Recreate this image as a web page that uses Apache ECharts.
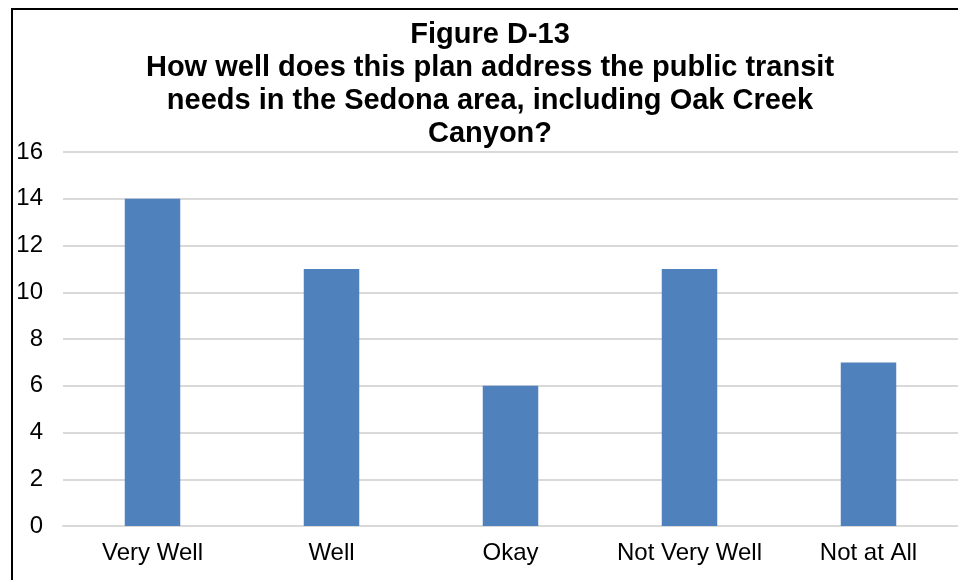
<!DOCTYPE html>
<html><head><meta charset="utf-8">
<script src="https://cdn.jsdelivr.net/npm/echarts@6/dist/echarts.min.js"></script>
<style>html,body{margin:0;padding:0;background:#fff}#c{width:958px;height:580px}</style>
</head><body><div id="c"></div>
<script>
const categories = ["Very Well", "Well", "Okay", "Not Very Well", "Not at All"];
const values = [14, 11, 6, 11, 7];
const titleText = "Figure D-13\nHow well does this plan address the public transit\nneeds in the Sedona area, including Oak Creek\nCanyon?";

const chart = echarts.init(document.getElementById('c'), null, {renderer: 'canvas'});
chart.setOption({
  animation: false,
  backgroundColor: '#fff',
  title: {
    text: titleText,
    left: 485, textAlign: 'center', top: 13,
    textStyle: {fontFamily: 'Arial, "Liberation Sans"', fontWeight: 'bold', fontSize: 29, lineHeight: 33, color: '#000'}
  },
  grid: {left: 63, right: -3, top: 152, bottom: 54, containLabel: false},
  xAxis: {
    type: 'category', data: categories,
    axisLine: {show: true, lineStyle: {color: '#d9d9d9', width: 2}},
    axisTick: {show: false},
    axisLabel: {color: '#000', fontSize: 24, fontFamily: 'Arial, "Liberation Sans"', margin: 15, interval: 0, hideOverlap: false}
  },
  yAxis: {
    type: 'value', min: 0, max: 16, interval: 2,
    axisLine: {show: false}, axisTick: {show: false},
    splitLine: {lineStyle: {color: '#d9d9d9', width: 2}},
    axisLabel: {color: '#000', fontSize: 24, fontFamily: 'Arial, "Liberation Sans"', margin: 20}
  },
  series: [{
    type: 'bar', data: values, barWidth: '31%',
    itemStyle: {color: '#4F81BD'}
  }],
  graphic: [
    {type: 'line', shape: {x1: 12, y1: 9, x2: 958, y2: 9}, style: {stroke: '#000', lineWidth: 2}},
    {type: 'line', shape: {x1: 12, y1: 8, x2: 12, y2: 580}, style: {stroke: '#000', lineWidth: 2}}
  ]
});
</script></body></html>
